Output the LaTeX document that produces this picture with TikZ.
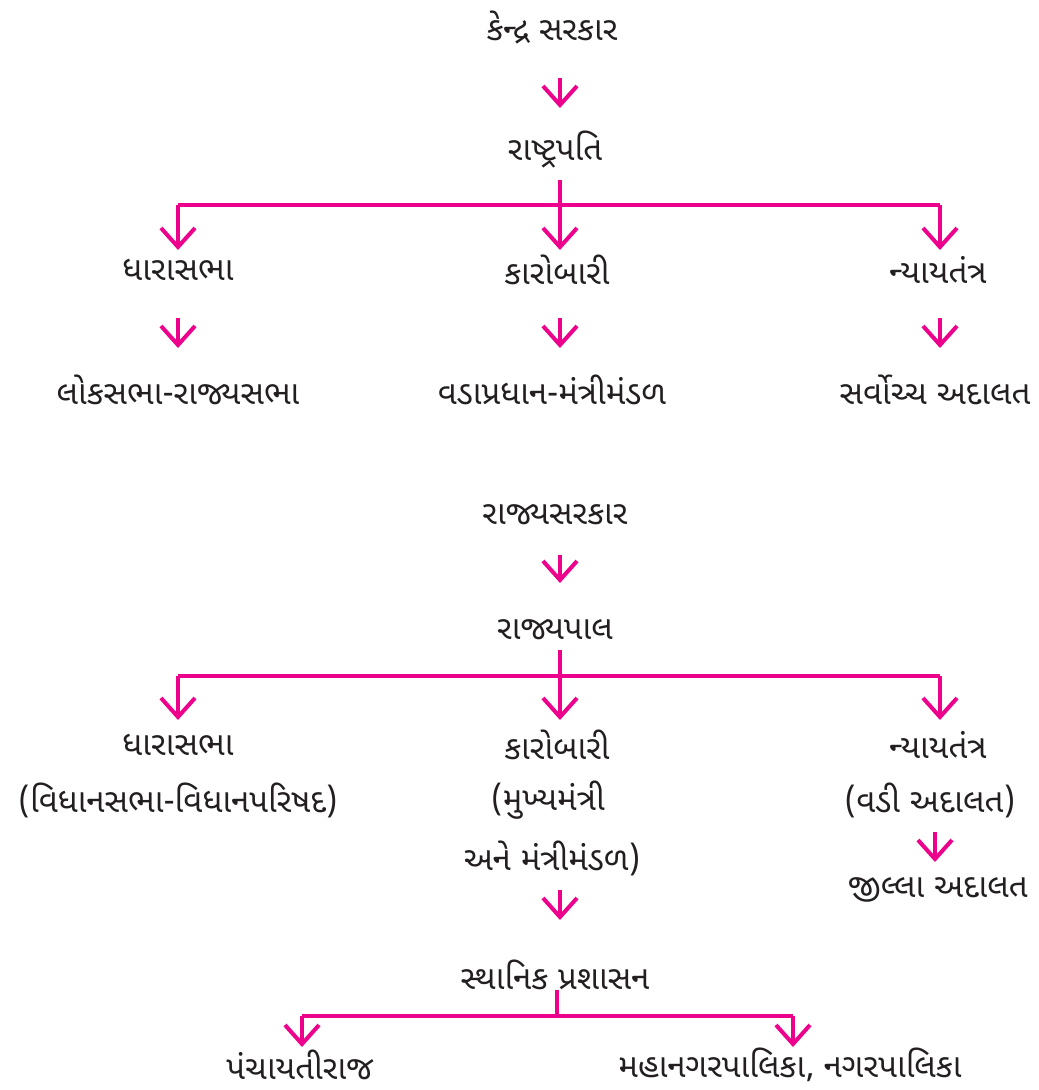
\documentclass[tikz,border=0pt]{standalone}
\usepackage{fontspec}
\newfontfamily\guj[Script=Gujarati]{Noto Sans Gujarati UI}
\usetikzlibrary{arrows.meta}
\definecolor{mag}{HTML}{EC008C}
\definecolor{ink}{HTML}{231F20}
\tikzset{
  lbl/.style={inner sep=0pt, text=ink, font=\guj\fontsize{33}{38}\selectfont},
  arr/.style={draw=mag, line width=4pt, -{Straight Barb[length=19pt,width=34pt,line width=4pt]}},
  ln/.style={draw=mag, line width=4pt}
}
\begin{document}
\begin{tikzpicture}[x=1pt,y=1pt]
\useasboundingbox (0,0) rectangle (1039,-1090);
% central government
\node[lbl] (k1) at (552,-28) {કેન્દ્ર સરકાર};
\node[lbl] (r1) at (555,-150) {રાષ્ટ્રપતિ};
\node[lbl] (d1) at (178,-270) {ધારાસભા};
\node[lbl] (kb1) at (557,-270) {કારોબારી};
\node[lbl] (n1) at (938,-270) {ન્યાયતંત્ર};
\node[lbl] (l1) at (178,-390) {લોકસભા-રાજ્યસભા};
\node[lbl] (v1) at (552,-390) {વડાપ્રધાન-મંત્રીમંડળ};
\node[lbl] (s1) at (935,-390) {સર્વોચ્ચ અદાલત};
\coordinate (j1) at (560,-205);
\coordinate (j1l) at (178,-205);
\coordinate (j1r) at (940,-205);
\draw[arr] ([shift={(8,-50)}]k1.center) -- ([shift={(5,42)}]r1.center);
\draw[ln] ([shift={(5,-30)}]r1.center) -- (j1);
\draw[ln] (j1l) -- (j1r);
\draw[arr] (j1l) -- ([shift={(0,20)}]d1.center);
\draw[arr] (j1) -- ([shift={(3,20)}]kb1.center);
\draw[arr] (j1r) -- ([shift={(2,20)}]n1.center);
\draw[arr] ([shift={(0,-48)}]d1.center) -- ([shift={(0,42)}]l1.center);
\draw[arr] ([shift={(3,-48)}]kb1.center) -- ([shift={(8,42)}]v1.center);
\draw[arr] ([shift={(2,-48)}]n1.center) -- ([shift={(5,42)}]s1.center);
% state government
\node[lbl] (k2) at (555,-515) {રાજ્યસરકાર};
\node[lbl] (r2) at (555,-630) {રાજ્યપાલ};
\node[lbl] (d2) at (178,-745) {ધારાસભા};
\node[lbl] (kb2) at (557,-745) {કારોબારી};
\node[lbl] (n2) at (938,-745) {ન્યાયતંત્ર};
\node[lbl] (d2b) at (178,-800) {(વિધાનસભા-વિધાનપરિષદ)};
\node[lbl] (kb2b) at (548,-800) {(મુખ્યમંત્રી};
\node[lbl] (kb2c) at (552,-858) {અને મંત્રીમંડળ)};
\node[lbl] (n2b) at (930,-800) {(વડી અદાલત)};
\node[lbl] (jl) at (938,-890) {જીલ્લા અદાલત};
\node[lbl] (sp) at (555,-975) {સ્થાનિક પ્રશાસન};
\node[lbl] (p) at (300,-1065) {પંચાયતીરાજ};
\node[lbl] (m) at (790,-1065) {મહાનગરપાલિકા, નગરપાલિકા};
\coordinate (j2) at (560,-676);
\coordinate (j2l) at (178,-676);
\coordinate (j2r) at (940,-676);
\coordinate (j3) at (557,-1016);
\coordinate (j3l) at (302,-1016);
\coordinate (j3r) at (793,-1016);
\coordinate (ja) at ([shift={(5,-32)}]n2b.center);
\coordinate (jb) at ([shift={(-3,28)}]jl.center);
\draw[arr] ([shift={(5,-40)}]k2.center) -- ([shift={(5,47)}]r2.center);
\draw[ln] ([shift={(5,-20)}]r2.center) -- (j2);
\draw[ln] (j2l) -- (j2r);
\draw[arr] (j2l) -- ([shift={(0,25)}]d2.center);
\draw[arr] (j2) -- ([shift={(3,25)}]kb2.center);
\draw[arr] (j2r) -- ([shift={(2,25)}]n2.center);
\draw[arr] (ja) -- (ja |- jb);
\draw[arr] ([shift={(8,-32)}]kb2c.center) -- ([shift={(8,-62)}]kb2c.center);
\draw[ln] ([shift={(2,-15)}]sp.center) -- (j3);
\draw[ln] (j3l) -- (j3r);
\draw[arr] (j3l) -- ([shift={(2,18)}]p.center);
\draw[arr] (j3r) -- ([shift={(3,18)}]m.center);
\end{tikzpicture}
\end{document}
